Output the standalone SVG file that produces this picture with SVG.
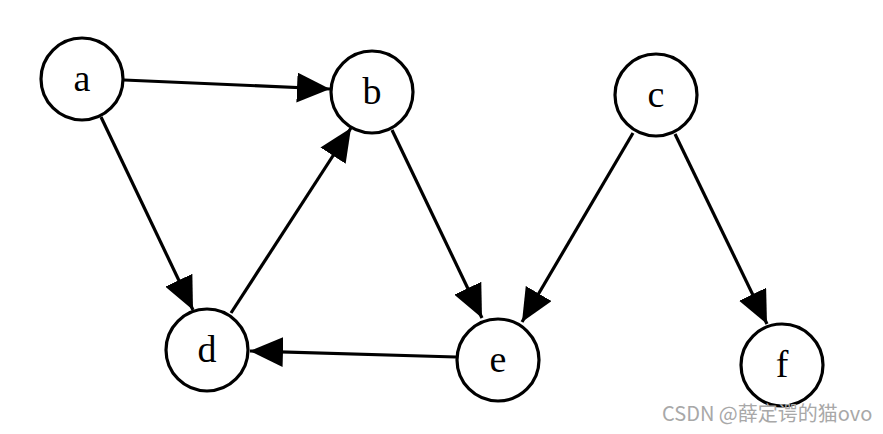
<svg xmlns="http://www.w3.org/2000/svg" width="883" height="434" viewBox="0 0 883 434">
<style>
.node circle{fill:#fff;stroke:#000;stroke-width:3.2}
.node text{font-family:"Liberation Serif","Times New Roman",serif;font-size:38px;fill:#000;text-anchor:middle}
.edge{stroke:#000;stroke-width:3.2;fill:none;marker-end:url(#arr)}
.wm{font-family:"Noto Sans CJK SC","Noto Sans",sans-serif;font-size:20px;fill:#a8a8a8}
</style>
<defs>
<marker id="arr" markerUnits="userSpaceOnUse" markerWidth="34" markerHeight="30" viewBox="0 0 34 30" refX="33" refY="15" orient="auto">
<path d="M0,0 L33,15 L0,30 Z" fill="#000"/>
</marker>
</defs>
<rect width="883" height="434" fill="#fff"/>
<g id="edges">
<path class="edge" d="M124,80 L330,89"/>
<path class="edge" d="M101,117 L193,310"/>
<path class="edge" d="M231,313 L351,128"/>
<path class="edge" d="M392,130 L482,318"/>
<path class="edge" d="M633,133 L522,322"/>
<path class="edge" d="M675,134 L767,324"/>
<path class="edge" d="M456,357 L250,351"/>
</g>
<g id="a" class="node"><circle cx="82" cy="79" r="41"/><text x="82" y="91">a</text></g>
<g id="b" class="node"><circle cx="372" cy="92" r="41"/><text x="372" y="104">b</text></g>
<g id="c" class="node"><circle cx="656" cy="95" r="41"/><text x="656" y="107">c</text></g>
<g id="d" class="node"><circle cx="207" cy="350" r="41"/><text x="207" y="362">d</text></g>
<g id="e" class="node"><circle cx="498" cy="360" r="41"/><text x="498" y="372">e</text></g>
<g id="f" class="node"><circle cx="782" cy="365" r="41"/><text x="782" y="377">f</text></g>
<text class="wm" x="662" y="421">CSDN @薛定谔的猫ovo</text>
</svg>
